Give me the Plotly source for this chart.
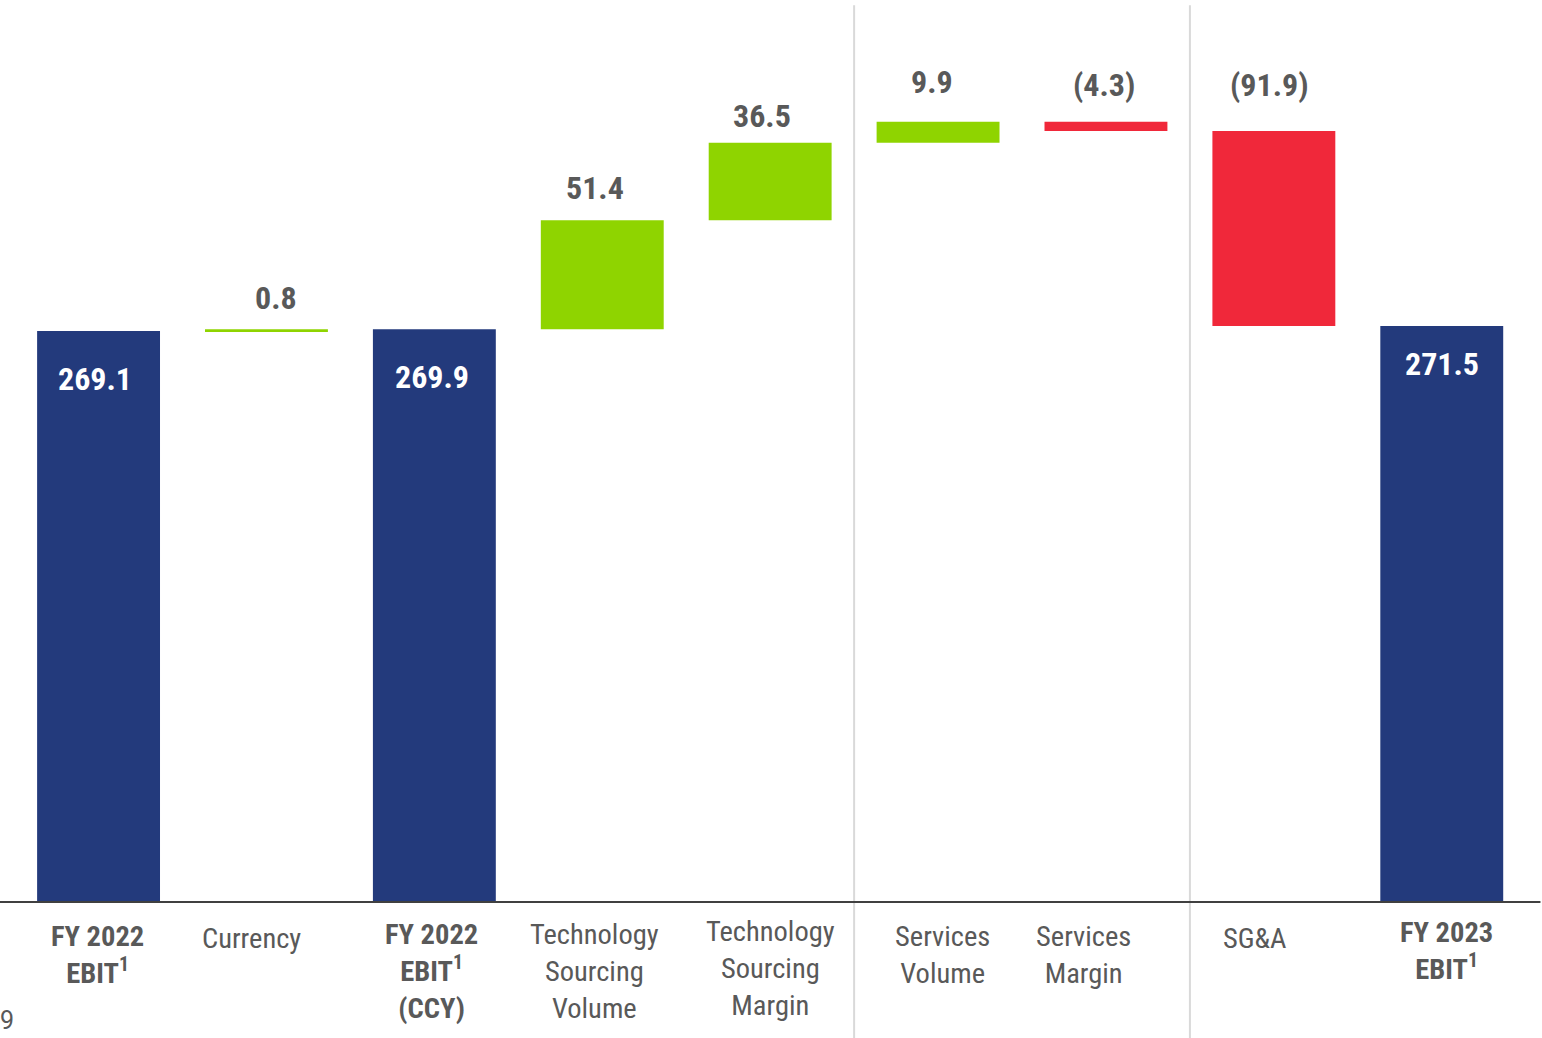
import plotly.graph_objects as go

# ---- data ----
categories = [
    "FY 2022<br>EBIT<sup>1</sup>",
    "Currency",
    "FY 2022<br>EBIT<sup>1</sup><br>(CCY)",
    "Technology<br>Sourcing<br>Volume",
    "Technology<br>Sourcing<br>Margin",
    "Services<br>Volume",
    "Services<br>Margin",
    "SG&A",
    "FY 2023<br>EBIT<sup>1</sup>",
]
bold_category = [True, False, True, False, False, False, False, False, True]
measures = ["absolute", "relative", "total", "relative", "relative",
            "relative", "relative", "relative", "total"]
values = [269.1, 0.8, 0, 51.4, 36.5, 9.9, -4.3, -91.9, 0]
value_labels = ["269.1", "0.8", "269.9", "51.4", "36.5", "9.9", "(4.3)", "(91.9)", "271.5"]
separators_after = [4, 6]   # vertical dividers after these category indices
page_number = "9"

# ---- style ----
NAVY = "#233A7C"
GREEN = "#8FD400"
RED = "#F0283A"
GREY_TEXT = "#595959"
FONT = "Roboto Condensed, Liberation Sans Narrow, Arial Narrow, DejaVu Sans Condensed, Roboto, sans-serif"

# per-label pixel nudges (style only)
val_dx = [-3.5, 10, -2, -7.5, -8.5, -6.5, -1.5, -4.5, 0]
val_dy = [-48, 31, -48, 32, 27, 40, 37, 46, -38]
cat_dx = [-1.5, -15, -3, -7.5, 0.5, 4.5, -22.5, -18.5, 4.5]
cat_dy = [0, -2, 2, 2, 5, 0, 0, -2, 4]

x = list(range(len(categories)))

fig = go.Figure(go.Waterfall(
    x=x, y=values, measure=measures,
    width=0.732,
    textinfo="none",
    increasing=dict(marker=dict(color=GREEN, line=dict(width=0))),
    decreasing=dict(marker=dict(color=RED, line=dict(width=0))),
    totals=dict(marker=dict(color=NAVY, line=dict(width=0))),
    connector=dict(visible=False),
    hoverinfo="skip",
))

# compute running levels to place labels
level = 0.0
tops = []
for m, v in zip(measures, values):
    if m == "absolute":
        level = v
        tops.append(level)
    elif m == "total":
        tops.append(level)
    else:
        prev = level
        level = level + v
        tops.append(max(prev, level))

annotations = []
for i, lab in enumerate(value_labels):
    is_total = measures[i] != "relative"
    annotations.append(dict(
        x=i, y=tops[i], xref="x", yref="y", text=f"<b>{lab}</b>",
        showarrow=False, xanchor="center", yanchor="middle",
        xshift=val_dx[i], yshift=val_dy[i],
        font=dict(family=FONT, size=32, color="white" if is_total else GREY_TEXT),
    ))

for i, c in enumerate(categories):
    txt = f"<b>{c}</b>" if bold_category[i] else c
    annotations.append(dict(
        x=i, y=0, xref="x", yref="y", text=txt,
        showarrow=False, xanchor="center", yanchor="top",
        xshift=cat_dx[i], yshift=-16 + cat_dy[i],
        font=dict(family=FONT, size=28.5, color=GREY_TEXT),
        align="center",
    ))

annotations.append(dict(
    x=0.0, y=0.0, xref="paper", yref="paper", text=page_number,
    showarrow=False, xanchor="left", yanchor="bottom", xshift=-2, yshift=1,
    font=dict(family="Roboto, Liberation Sans, sans-serif", size=25, color=GREY_TEXT),
))

shapes = [dict(type="line", xref="paper", yref="y", x0=0, x1=0.999, y0=0, y1=0,
               line=dict(color="#404040", width=2))]
for s in separators_after:
    shapes.append(dict(type="line", xref="x", yref="paper", x0=s + 0.5, x1=s + 0.5,
                       y0=0, y1=0.995, line=dict(color="#D9D9D9", width=2), layer="below"))

fig.update_layout(
    width=1542, height=1038,
    margin=dict(l=0, r=0, t=0, b=0),
    paper_bgcolor="white", plot_bgcolor="white",
    showlegend=False,
    xaxis=dict(range=[-0.587, 8.597], visible=False, fixedrange=True),
    yaxis=dict(range=[-64.1, 425.1], visible=False, fixedrange=True),
    annotations=annotations,
    shapes=shapes,
)

fig.write_html(
    "out.html",
    config={"displayModeBar": False},
    post_script="document.body.style.margin='0px';document.body.style.overflow='hidden';",
)
